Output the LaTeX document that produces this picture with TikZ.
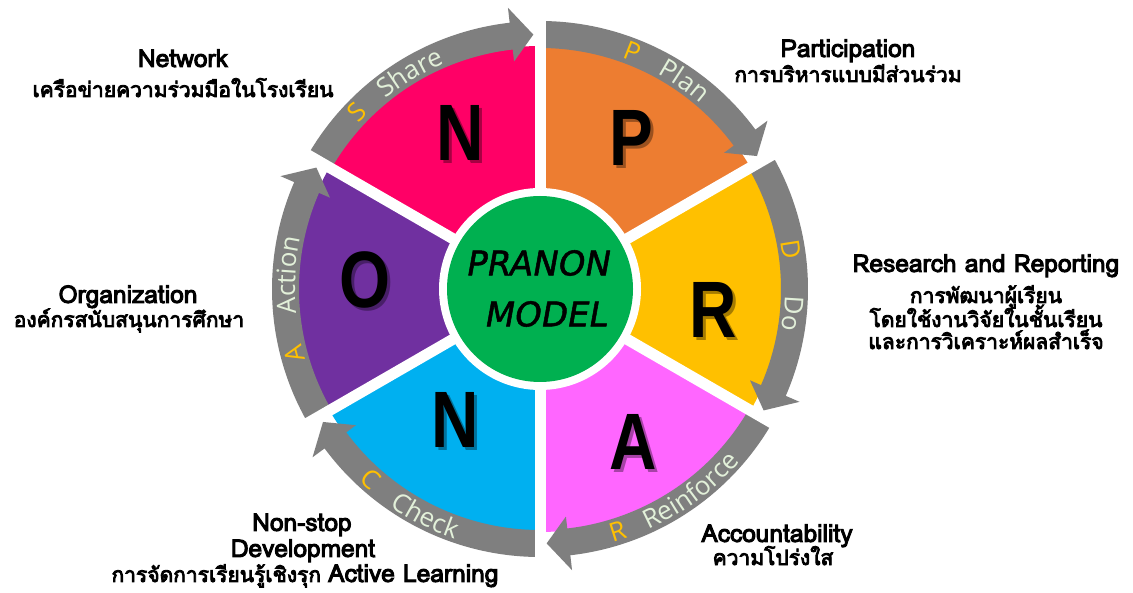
\documentclass[tikz,border=0pt]{standalone}
\usepackage{fontspec}
\setmainfont{Liberation Sans}
\newfontfamily\thaifont[Script=Thai,FakeBold=4]{Loma}
\newfontfamily\arcfont{Open Sans}
\newfontfamily\bigfont{Liberation Sans}
\newfontfamily\centerfont[FakeSlant=0.18,FakeBold=1.5]{DejaVu Sans}
\newcommand\thsz{\thaifont\fontsize{21}{21}\selectfont}
\newcommand\ensz{\thaifont\fontsize{24.5}{24.5}\selectfont}
\usetikzlibrary{decorations.text}
\definecolor{cN}{HTML}{FF0066}
\definecolor{cP}{HTML}{ED7D31}
\definecolor{cR}{HTML}{FFC000}
\definecolor{cA}{HTML}{FF66FF}
\definecolor{cNb}{HTML}{00B0F0}
\definecolor{cO}{HTML}{7030A0}
\definecolor{cG}{HTML}{00B050}
\definecolor{agray}{HTML}{7F7F7F}
\definecolor{wordcol}{HTML}{E2F0D9}
\tikzset{
  biglet/.style={font=\bigfont\bfseries\fontsize{80}{80}\selectfont, xscale=0.82, inner sep=0pt},
  bigshadow/.style={biglet, text=black, opacity=0.35},
  enl/.style={font=\ensz, anchor=base, inner sep=0pt, text=black},
  thl/.style={font=\thsz, anchor=base, inner sep=0pt, text=black},
  arcword/.style={decorate, decoration={text along path, text align=center,
     text={|\arcfont\fontsize{26}{26}\selectfont\color{wordcol}|#1}}},
  arcletter/.style={decorate, decoration={text along path, text align=center,
     text={|\arcfont\fontsize{26}{26}\selectfont\color{cR}|#1}}},
  ctext/.style={font=\centerfont\fontsize{34}{34}\selectfont, inner sep=0pt}
}
\begin{document}
\begin{tikzpicture}[x=1pt,y=1pt]
\fill[white] (0,0) rectangle (1133,592);
\useasboundingbox (0,0) rectangle (1133,592);
\coordinate (C) at (540,303);
\begin{scope}[shift={(C)}]
  % sectors
  \foreach \a/\col in {90/cN,30/cP,-30/cR,-90/cA,-150/cNb,150/cO}{
    \fill[\col] (0,0) -- (\a:243) arc[start angle=\a, end angle=\a+60, radius=243] -- cycle;
  }
  % arrows (clockwise)
  \foreach \a [evaluate=\a as \b using \a+60, evaluate=\a as \h using \a+6.5, evaluate=\a as \t using \a+1.5] in {90,30,-30,-90,-150,150}{
    \fill[agray] (\b:268) arc[start angle=\b, end angle=\h, radius=268] -- (\h:283) -- (\t:254.5) -- (\h:229) -- (\h:241) arc[start angle=\h, end angle=\b, radius=241] -- cycle;
  }
  % white separators
  \foreach \a in {90,30,-30,-90,-150,150}{
    \draw[white, line width=11pt] (0,0) -- (\a:292);
  }
  \fill[white] (0,0) circle[radius=101];
  \fill[cG] (0,0) circle[radius=93];
  % arc texts
  \path[arcletter=S] (148:245) arc[start angle=148, end angle=124, radius=245];
  \path[arcword=Share] (141:245) arc[start angle=141, end angle=101, radius=245];
  \path[arcletter=P] (80.7:245) arc[start angle=80.7, end angle=56.7, radius=245];
  \path[arcword=Plan] (75.2:245) arc[start angle=75.2, end angle=35.2, radius=245];
  \path[arcletter=D] (20.9:245) arc[start angle=20.9, end angle=-3.1, radius=245];
  \path[arcword=Do] (6.5:245) arc[start angle=6.5, end angle=-17.5, radius=245];
  \path[arcletter=R] (-84.3:264) arc[start angle=-84.3, end angle=-60.3, radius=264];
  \path[arcword=Reinforce] (-78.3:264) arc[start angle=-78.3, end angle=-28.3, radius=264];
  \path[arcletter=C] (216.3:264) arc[start angle=216.3, end angle=240.3, radius=264];
  \path[arcword=Check] (223.2:264) arc[start angle=223.2, end angle=263.2, radius=264];
  \path[arcletter=A] (206.8:245) arc[start angle=206.8, end angle=182.8, radius=245];
  \path[arcword=Action] (196.8:245) arc[start angle=196.8, end angle=156.8, radius=245];
\end{scope}
% big letters with soft shadow
\node[bigshadow] (sN1) at (463,456) {N};
\node[biglet] (N1) at (460,459) {N};
\node[bigshadow] (sP) at (634,451) {P};
\node[biglet] (P) at (631,454) {P};
\node[bigshadow] (sR) at (716,279) {R};
\node[biglet] (R) at (713,282) {R};
\node[bigshadow] (sA) at (636,147) {A};
\node[biglet] (A) at (633,150) {A};
\node[bigshadow] (sN2) at (458,169) {N};
\node[biglet] (N2) at (455,172) {N};
\node[bigshadow] (sO) at (368,309) {O};
\node[biglet] (O) at (365,312) {O};
% centre text
\node[ctext] (t1) at (537,329) {PRANON};
\node[ctext] (t2) at (545,278) {MODEL};
% labels
\node[enl] (lNet1) at (183,525) {Network};
\node[thl] (lNet2) at (183,495) {เครือข่ายความร่วมมือในโรงเรียน};
\node[enl] (lPar1) at (848,535) {Participation};
\node[thl] (lPar2) at (848,510) {การบริหารแบบมีส่วนร่วม};
\node[enl] (lRes1) at (986,320) {Research and Reporting};
\node[thl] (lRes2) at (986,289) {การพัฒนาผู้เรียน};
\node[thl] (lRes3) at (986,265) {โดยใช้งานวิจัยในชั้นเรียน};
\node[thl] (lRes4) at (986,243) {และการวิเคราะห์ผลสำเร็จ};
\node[enl] (lOrg1) at (128,289) {Organization};
\node[thl] (lOrg2) at (129,265) {องค์กรสนับสนุนการศึกษา};
\node[enl] (lNon1) at (302,61) {Non-stop};
\node[enl] (lNon2) at (303,35) {Development};
\node[thl] (lNon3) at (305,10) {การจัดการเรียนรู้เชิงรุก {\ensz Active Learning}};
\node[enl] (lAcc1) at (777,50) {Accountability};
\node[thl] (lAcc2) at (773,27) {ความโปร่งใส};
\end{tikzpicture}
\end{document}
